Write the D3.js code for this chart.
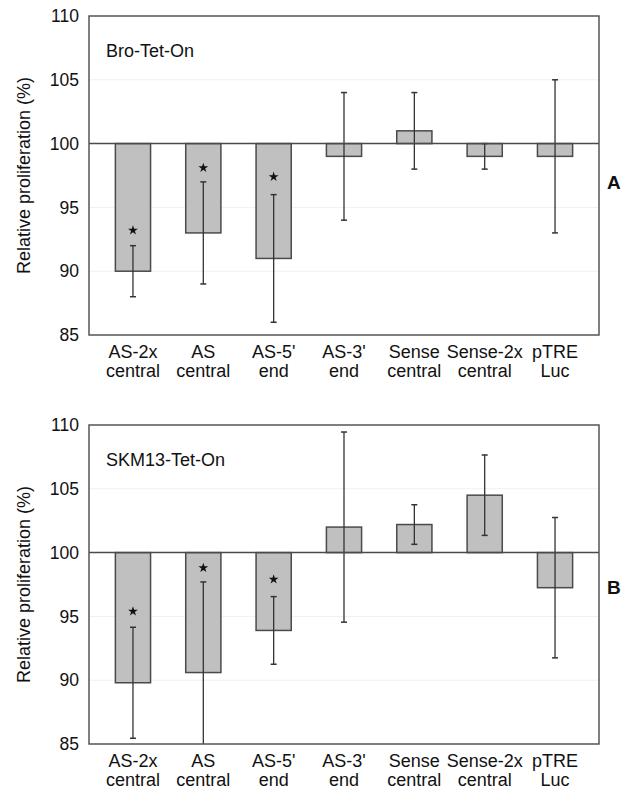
<!DOCTYPE html>
<html>
<head>
<meta charset="utf-8">
<script src="https://cdn.jsdelivr.net/npm/d3@7"></script>
<style>
  body { margin: 0; background: #fff; }
  svg { display: block; font-family: Arial, "Liberation Sans", sans-serif; }
</style>
</head>
<body>
<div id="chart"></div>
<script>
// categories, two text lines each
var categories = ["AS-2x central", "AS central", "AS-5' end", "AS-3' end", "Sense central", "Sense-2x central", "pTRE Luc"];
var catLines = [["AS-2x", "central"], ["AS", "central"], ["AS-5'", "end"], ["AS-3'", "end"], ["Sense", "central"], ["Sense-2x", "central"], ["pTRE", "Luc"]];

// panel A: Bro-Tet-On
var broMean = [90, 93, 91, 99, 101, 99, 99];
var broErr  = [2, 4, 5, 5, 3, 1, 6];
var broStar = [93.2, 98.1, 97.4, null, null, null, null];

// panel B: SKM13-Tet-On
var skmMean = [89.8, 90.6, 93.9, 102.0, 102.2, 104.5, 97.25];
var skmErr  = [4.35, 7.1, 2.65, 7.45, 1.55, 3.15, 5.5];
var skmStar = [95.4, 98.8, 97.9, null, null, null, null];

var yTicks = [85, 90, 95, 100, 105, 110];
var gridVals = [90, 95, 105];

var W = 630, H = 791;
var svg = d3.select('#chart').append('svg')
    .attr('width', W)
    .attr('height', H);

var panels = [
    { name: 'Bro-Tet-On', tag: 'A', mean: broMean, err: broErr, star: broStar, top: 16, tagY: 182 },
    { name: 'SKM13-Tet-On', tag: 'B', mean: skmMean, err: skmErr, star: skmStar, top: 425, tagY: 587 }
];

var left = 89, right = 599, ph = 319;

var x = d3.scaleBand()
    .domain(categories)
    .range([left, right])
    .paddingInner(0.5)
    .paddingOuter(0.375);

function cx(i) { return x(categories[i]) + x.bandwidth() / 2; }

panels.forEach(function(p) {
    var y = d3.scaleLinear()
        .domain([85, 110])
        .range([p.top + ph, p.top]);

    var rows = p.mean.map(function(m, i) {
        return { i: i, mean: m, lo: m - p.err[i], hi: m + p.err[i], star: p.star[i] };
    });

    var g = svg.append('g').attr('class', 'panel');

    // clip so error bars stop at the frame
    var clipId = 'clip-' + p.tag;
    svg.append('clipPath').attr('id', clipId)
      .append('rect')
        .attr('x', left).attr('y', p.top)
        .attr('width', right - left).attr('height', ph);

    // faint grid
    g.selectAll('.grid')
        .data(gridVals)
        .enter().append('line')
        .attr('x1', left).attr('x2', right)
        .attr('y1', function(d) { return y(d); })
        .attr('y2', function(d) { return y(d); })
        .attr('stroke', '#f0f0f0')
        .attr('stroke-width', 1);

    // y axis labels (no tick marks)
    var yAxis = d3.axisLeft(y)
        .tickValues(yTicks)
        .tickSize(0)
        .tickPadding(10);
    var ax = g.append('g')
        .attr('transform', 'translate(' + left + ',0)')
        .call(yAxis);
    ax.select('.domain').remove();
    ax.selectAll('text')
        .attr('font-size', 17.5)
        .attr('fill', '#111')
        .style('font-family', 'Arial, "Liberation Sans", sans-serif');

    // bars from 100
    var plot = g.append('g').attr('clip-path', 'url(#' + clipId + ')');
    plot.selectAll('.bar')
        .data(rows)
        .enter().append('rect')
        .attr('class', 'bar')
        .attr('x', function(d) { return x(categories[d.i]); })
        .attr('width', x.bandwidth())
        .attr('y', function(d) { return y(Math.max(d.mean, 100)); })
        .attr('height', function(d) { return Math.abs(y(d.mean) - y(100)); })
        .attr('fill', '#c0c0c0')
        .attr('stroke', '#4a4a4a')
        .attr('stroke-width', 1.5);

    // baseline at 100
    g.append('line')
        .attr('x1', left).attr('x2', right)
        .attr('y1', y(100)).attr('y2', y(100))
        .attr('stroke', '#4a4a4a')
        .attr('stroke-width', 1.5);

    // error bars
    var eb = plot.selectAll('.err')
        .data(rows)
        .enter().append('g')
        .attr('class', 'err')
        .attr('transform', function(d) { return 'translate(' + cx(d.i) + ',0)'; });
    eb.append('line')
        .attr('y1', function(d) { return y(d.lo); })
        .attr('y2', function(d) { return y(d.hi); })
        .attr('stroke', '#333')
        .attr('stroke-width', 1.3);
    eb.append('line')
        .attr('x1', -3).attr('x2', 3)
        .attr('y1', function(d) { return y(d.hi); })
        .attr('y2', function(d) { return y(d.hi); })
        .attr('stroke', '#333')
        .attr('stroke-width', 1.5);
    eb.filter(function(d) { return d.lo >= 85; })
      .append('line')
        .attr('x1', -3).attr('x2', 3)
        .attr('y1', function(d) { return y(d.lo); })
        .attr('y2', function(d) { return y(d.lo); })
        .attr('stroke', '#333')
        .attr('stroke-width', 1.5);

    // significance stars
    g.selectAll('.star')
        .data(rows.filter(function(d) { return d.star !== null; }))
        .enter().append('path')
        .attr('d', d3.symbol().type(d3.symbolStar).size(30))
        .attr('transform', function(d) { return 'translate(' + cx(d.i) + ',' + y(d.star) + ')'; })
        .attr('fill', '#111');

    // frame
    g.append('rect')
        .attr('x', left).attr('y', p.top)
        .attr('width', right - left).attr('height', ph)
        .attr('fill', 'none')
        .attr('stroke', '#555')
        .attr('stroke-width', 1.5);

    // panel name
    g.append('text')
        .attr('x', 106).attr('y', p.top + 41)
        .attr('font-size', 18)
        .attr('fill', '#111')
        .text(p.name);

    // category labels
    var cl = g.selectAll('.cat')
        .data(catLines)
        .enter().append('text')
        .attr('text-anchor', 'middle')
        .attr('font-size', 18)
        .attr('fill', '#111')
        .attr('transform', function(d, i) { return 'translate(' + cx(i) + ',' + (p.top + ph + 23) + ')'; });
    cl.append('tspan').attr('x', 0).attr('y', 0).text(function(d) { return d[0]; });
    cl.append('tspan').attr('x', 0).attr('y', 19).text(function(d) { return d[1]; });

    // y title
    g.append('text')
        .attr('transform', 'translate(30,' + (p.top + ph / 2) + ') rotate(-90)')
        .attr('text-anchor', 'middle')
        .attr('font-size', 18)
        .attr('fill', '#111')
        .text('Relative proliferation (%)');

    // panel tag
    g.append('text')
        .attr('x', 607).attr('y', p.tagY + 7)
        .attr('font-size', 19)
        .attr('font-weight', 'bold')
        .attr('fill', '#111')
        .text(p.tag);
});
</script>
</body>
</html>
